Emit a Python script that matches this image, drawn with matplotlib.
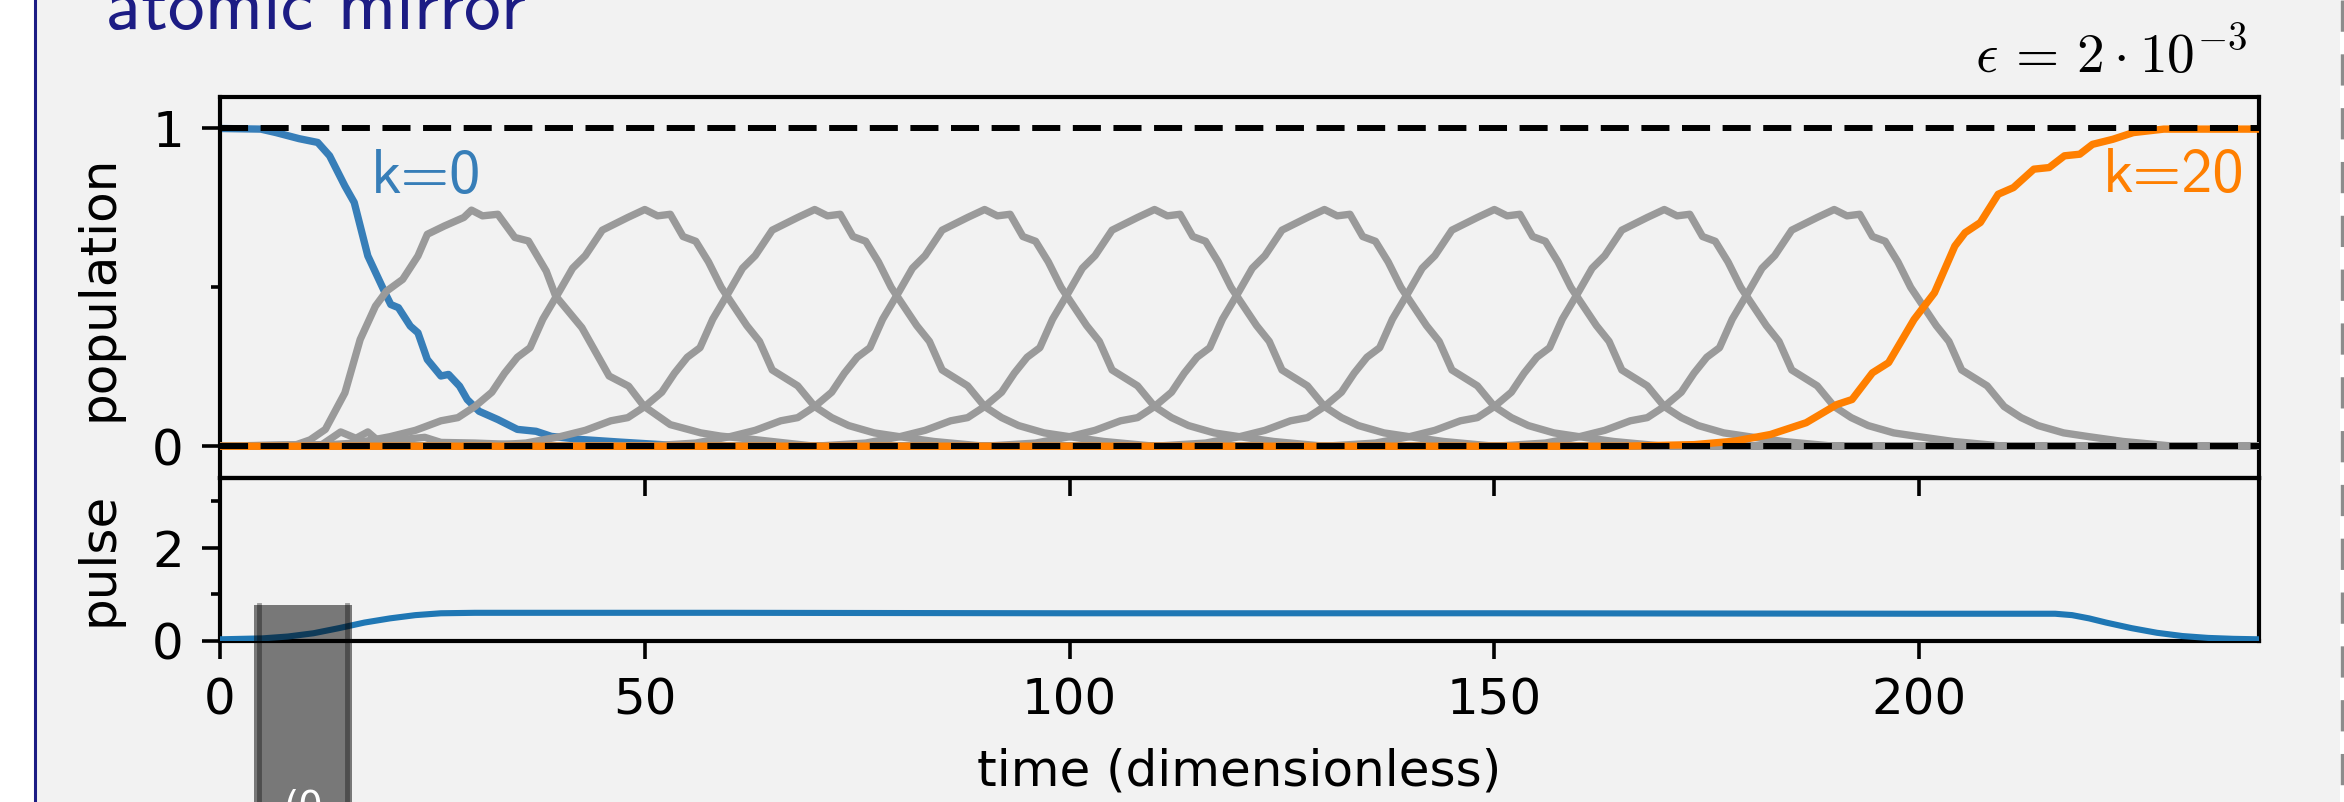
import numpy as np
import matplotlib
matplotlib.use("Agg")
import matplotlib.pyplot as plt
from matplotlib.patches import Rectangle
from matplotlib.lines import Line2D

plt.rcParams['mathtext.fontset'] = 'cm'
plt.rcParams['font.family'] = ['DejaVu Sans']

# population of k=0 (blue)
t_k0 = [0, 4.8, 6.6, 9.3, 11.5, 12.9, 14.7, 15.8, 17.4, 19.6, 20.1, 21.0, 22.4, 23.3,
        24.4, 26.0, 26.9, 28.2, 29.1, 30.5, 32.7, 35.0, 37.2, 39.0, 42.6, 47.1, 55, 240]
p_k0 = [1.0, 0.998, 0.987, 0.968, 0.956, 0.914, 0.819, 0.767, 0.599, 0.473, 0.446, 0.436,
        0.378, 0.357, 0.273, 0.221, 0.226, 0.189, 0.147, 0.110, 0.084, 0.053, 0.047, 0.031,
        0.021, 0.013, 0.0, 0.0]

# first intermediate state (peak near t=30)
t_k2 = [0, 9, 10.6, 12.4, 14.7, 16.5, 18.3, 19.6, 21.5, 23.3, 24.4, 26.4, 28.7, 29.6, 30.9,
        32.7, 34.7, 36.3, 38.4, 39.5, 42.6, 45.8, 48.1, 49.9, 53.0, 56.6, 58.9, 62.9, 70, 240]
p_k2 = [0, 0.005, 0.02, 0.053, 0.168, 0.336, 0.441, 0.488, 0.525, 0.599, 0.667, 0.693, 0.72,
        0.743, 0.725, 0.73, 0.657, 0.646, 0.551, 0.473, 0.373, 0.221, 0.189, 0.126, 0.068,
        0.042, 0.032, 0.021, 0.0, 0.0]

# the other intermediate states share one shape, read relative to their peak time
grey_peaks = [50, 70, 90, 110, 130, 150, 170, 190]
grey_dt = [-40, -34, -30, -27, -24, -22, -20, -18, -16.5, -15, -13.5, -12, -10, -8.5, -7,
           -5, -3.5, -2, 0, 1.5, 3, 4.5, 6, 7.5, 9, 10.5, 12, 13.5, 15, 16.5, 18, 20, 22,
           24, 27, 30, 34, 40]
grey_p = [0.0, 0.01, 0.03, 0.05, 0.08, 0.09, 0.125, 0.17, 0.23, 0.28, 0.31, 0.40, 0.49,
          0.56, 0.6, 0.68, 0.70, 0.72, 0.745, 0.725, 0.73, 0.66, 0.645, 0.58, 0.5, 0.44,
          0.38, 0.33, 0.24, 0.215, 0.19, 0.125, 0.09, 0.065, 0.042, 0.03, 0.015, 0.0]

# small bumps near zero at early times
t_small = [0, 12, 14.2, 16, 17.4, 18.7, 21, 24.1, 26, 30, 40, 240]
p_small = [0, 0.005, 0.045, 0.025, 0.045, 0.015, 0.02, 0.028, 0.012, 0.01, 0, 0]

# population of k=20 (orange)
t_k20 = [0, 165, 173.5, 178.3, 182.5, 186.7, 190.3, 192.1, 194.5, 196.4, 199.4, 201.8,
         204.2, 205.4, 207.2, 209.3, 211.1, 213.5, 215.3, 217.1, 218.9, 220.4, 222.8,
         225.2, 228.8, 240]
p_k20 = [0, 0, 0.005, 0.016, 0.037, 0.074, 0.131, 0.147, 0.231, 0.263, 0.399, 0.483, 0.630,
         0.672, 0.704, 0.793, 0.814, 0.872, 0.877, 0.914, 0.919, 0.950, 0.966, 0.987, 0.998,
         0.998]

# pulse amplitude
t_pulse = [0, 5, 8, 11, 14, 17, 20, 23, 26, 30, 60, 100, 150, 200, 216, 218, 220, 222,
           225, 228, 231, 234, 237, 240]
a_pulse = [0.03, 0.05, 0.09, 0.16, 0.27, 0.39, 0.48, 0.55, 0.59, 0.6, 0.6, 0.59, 0.59,
           0.58, 0.58, 0.55, 0.48, 0.39, 0.27, 0.17, 0.1, 0.06, 0.04, 0.03]

W, H = 2344, 802
navy = '#1c1c84'
bg = '#f2f2f2'
grey = '#9a9a9a'
blue = '#377eb8'
orange = '#ff7f00'

fig = plt.figure(figsize=(W / 100, H / 100), dpi=100, facecolor='white')
fig.patches.append(Rectangle((36 / W, 0), (2340 - 36) / W, 1, transform=fig.transFigure,
                             facecolor=bg, edgecolor='none', zorder=-10))
fig.lines.append(Line2D([34.5 / W] * 2, [0, 1], transform=fig.transFigure, color=navy, lw=2.2))
fig.lines.append(Line2D([2342 / W] * 2, [1, 0], transform=fig.transFigure, color='#8c8c8c',
                        lw=2.5, ls=(0, (9, 6.5))))

fig.text(106 / W, 1 - 29 / H, 'atomic mirror', family='cmss10', fontsize=53, color=navy,
         va='baseline', ha='left')
fig.text(2247 / W, 1 - 73 / H, r'$\epsilon\,=\,2\cdot 10^{-3}$', fontsize=40, ha='right',
         va='baseline')

x0, x1 = 220 / W, 2259 / W
ax1 = fig.add_axes([x0, 1 - 478 / H, x1 - x0, (478 - 96.7) / H])
ax2 = fig.add_axes([x0, 1 - 640.7 / H, x1 - x0, (640.7 - 478) / H])

lw = 5.3
ax1.plot(t_k0, p_k0, color=blue, lw=lw, zorder=2)
ax1.plot(t_small, p_small, color=grey, lw=lw, zorder=3)
ax1.plot(t_k2, p_k2, color=grey, lw=lw, zorder=3)
for pk in grey_peaks:
    tt = [0] + [pk + d for d in grey_dt] + [240]
    pp = [0] + grey_p + [0]
    ax1.plot(tt, pp, color=grey, lw=lw, zorder=3)
ax1.plot(t_k20, p_k20, color=orange, lw=lw, zorder=4)
for yv in (0, 1):
    ax1.axhline(yv, color='k', lw=4.3, ls=(0, (4.7, 2.1)), zorder=5)

ax1.text(17.7, 0.796, 'k=0', family='cmss10', fontsize=45, color=blue, va='baseline')
ax1.text(238.3, 0.80, 'k=20', family='cmss10', fontsize=45, color=orange, va='baseline',
         ha='right')

ax2.plot(t_pulse, a_pulse, color='#1f77b4', lw=4.4, zorder=3)

for ax in (ax1, ax2):
    ax.set_facecolor('none')
    ax.set_xlim(0, 240)
    ax.set_xticks([0, 50, 100, 150, 200])
    for s in ax.spines.values():
        s.set_linewidth(3)
    ax.tick_params(which='major', length=13, width=2.6, labelsize=36, pad=13)
    ax.tick_params(which='minor', length=6.5, width=2.6)

ax1.set_ylim(-0.1, 1.1)
ax1.set_yticks([0, 1])
ax1.set_yticks([0.5], minor=True)
ax1.tick_params(axis='x', labelbottom=False)
ax1.set_ylabel('population', fontsize=36, labelpad=21)

ax2.set_ylim(0, 3.5)
ax2.set_yticks([0, 2])
ax2.set_yticks([1, 3], minor=True)
ax2.set_ylabel('pulse', fontsize=36, labelpad=21)
ax2.set_xlabel('time (dimensionless)', fontsize=36, labelpad=16)
fig.align_ylabels([ax1, ax2])

# overlapping dark box from the slide
fig.patches.append(Rectangle((254 / W, 0), 98 / W, (802 - 605) / H, transform=fig.transFigure,
                             facecolor='black', alpha=0.5, edgecolor='none', zorder=10))
for xv in (259, 347):
    fig.lines.append(Line2D([xv / W] * 2, [0, (802 - 605) / H], transform=fig.transFigure,
                            color='black', alpha=0.35, lw=3.5, zorder=11))
fig.text(304 / W, 13 / H, '(0', color='white', fontsize=28, ha='center', va='top',
         zorder=12)

fig.savefig('out.png', dpi=100, facecolor=fig.get_facecolor())
